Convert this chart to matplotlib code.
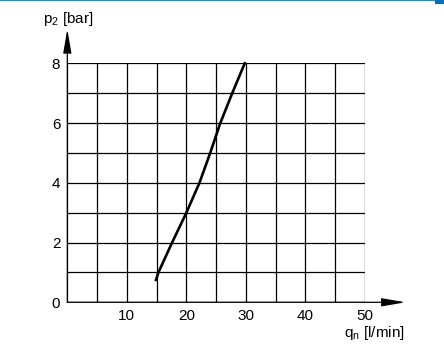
import matplotlib.pyplot as plt
from matplotlib.lines import Line2D

plt.rcParams['font.family'] = ['Liberation Sans', 'DejaVu Sans']

# curve: flow q_n [l/min] vs pressure p2 [bar]
flow = [14.9, 15.3, 17.6, 20.0, 22.2, 24.0, 25.7, 27.7, 29.8]
pressure = [0.75, 1.0, 2.0, 3.0, 4.0, 5.0, 6.0, 7.0, 8.0]

x_grid = list(range(0, 51, 5))
y_grid = list(range(0, 9))
x_labels = ['' if v % 10 or v == 0 else str(v) for v in x_grid]
y_labels = [str(v) if v % 2 == 0 else '' for v in y_grid]

fig = plt.figure(figsize=(4.44, 3.46), dpi=100)
ax = fig.add_axes([0.1516, 0.1263, 0.6705, 0.6908])

ax.set_xlim(0, 50)
ax.set_ylim(0, 8)
for s in ax.spines.values():
    s.set_visible(False)

ax.set_xticks(x_grid)
ax.set_xticklabels(x_labels)
ax.set_yticks(y_grid)
ax.set_yticklabels(y_labels)
ax.tick_params(length=0, labelsize=11, colors='black')
ax.tick_params(axis='y', pad=5)
ax.tick_params(axis='x', pad=5)
ax.grid(True, color='black', lw=0.9)

# axes with arrow heads
arrow = dict(arrowstyle='-|>,head_length=1.45,head_width=0.25', color='black',
             lw=0.9, shrinkA=0, shrinkB=0, mutation_scale=10)
ax.annotate('', xy=(56.8, 0), xytext=(0, 0), arrowprops=arrow, annotation_clip=False)
ax.annotate('', xy=(0, 9.14), xytext=(0, 0), arrowprops=arrow, annotation_clip=False)

ax.plot(flow, pressure, color='black', lw=1.9, solid_joinstyle='round', clip_on=False)

fig.text(0.097, 0.945, r'p$\mathregular{_2}$ [bar]', fontsize=11, ha='left', va='center')
fig.text(0.912, 0.038, r'q$\mathregular{_n}$ [l/min]', fontsize=11, ha='right', va='center')

# thin blue rule along the top edge
fig.add_artist(Line2D([0, 1], [0.999, 0.999], color='#0070c0', lw=1.2))
fig.add_artist(Line2D([0.985, 1], [0.995, 0.995], color='#0070c0', lw=3))

fig.savefig('out.png', dpi=100)
